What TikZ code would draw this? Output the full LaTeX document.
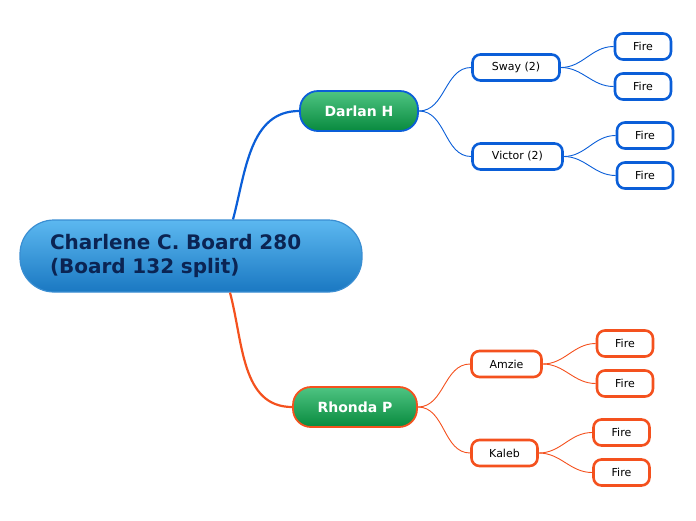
\documentclass[tikz,border=0pt]{standalone}
\usepackage{fontspec}
\setmainfont{DejaVu Sans}
\usepackage{tikz}
\usetikzlibrary{positioning}
\definecolor{rootTop}{HTML}{5CB8F0}
\definecolor{rootBottom}{HTML}{1A78C2}
\definecolor{rootEdge}{HTML}{3A8ED2}
\definecolor{rootInk}{HTML}{0B2453}
\definecolor{greenTop}{HTML}{4EC482}
\definecolor{greenBottom}{HTML}{088A3E}
\definecolor{linkBlue}{HTML}{0A5ED8}
\definecolor{linkOrange}{HTML}{F4511E}

\begin{document}
\begin{tikzpicture}[x=1pt,y=-1pt,
    rootbox/.style={draw=rootEdge,line width=1.2pt,rounded corners=34pt,
      top color=rootTop,bottom color=rootBottom,text=rootInk,
      font=\fontsize{20}{24}\selectfont\bfseries,align=left,
      text width=282pt,inner xsep=30pt,minimum height=72pt},
    mainbox/.style={draw=#1,line width=1.8pt,rounded corners=18pt,
      top color=greenTop,bottom color=greenBottom,text=white,
      font=\fontsize{14}{16}\selectfont\bfseries,minimum height=40pt},
    subbox/.style={draw=#1,line width=2.6pt,rounded corners=8pt,fill=white,
      font=\fontsize{11}{13}\selectfont,minimum height=26pt},
    firebox/.style={subbox=#1,minimum width=56pt},
    biglink/.style={draw=#1,line width=2.2pt},
    smalllink/.style={draw=#1,line width=0.9pt}]
    \useasboundingbox (0,0) rectangle (696,520);
    \node[rootbox] (root) at (191,256) {Charlene C. Board 280\\(Board 132 split)};
    \node[mainbox=linkBlue,minimum width=118pt] (darlan) at (359,111) {Darlan H};
    \node[mainbox=linkOrange,minimum width=124pt] (rhonda) at (355,407) {Rhonda P};
    \node[subbox=linkBlue,minimum width=87pt] (sway) at (516,67.5) {Sway (2)};
    \node[subbox=linkBlue,minimum width=90pt] (victor) at (517.5,156.5) {Victor (2)};
    \node[subbox=linkOrange,minimum width=70pt] (amzie) at (506.5,364) {Amzie};
    \node[subbox=linkOrange,minimum width=66pt] (kaleb) at (504.5,453) {Kaleb};
    \node[firebox=linkBlue] (fire1) at (643,46.5) {Fire};
    \node[firebox=linkBlue] (fire2) at (643,86.5) {Fire};
    \node[firebox=linkBlue] (fire3) at (645,135.5) {Fire};
    \node[firebox=linkBlue] (fire4) at (645,175.5) {Fire};
    \node[firebox=linkOrange] (fire5) at (625,343.5) {Fire};
    \node[firebox=linkOrange] (fire6) at (625,383.5) {Fire};
    \node[firebox=linkOrange] (fire7) at (621.5,432.5) {Fire};
    \node[firebox=linkOrange] (fire8) at (621.5,472.5) {Fire};
    \draw[biglink=linkBlue] ([xshift=42pt]root.north) to[out=75,in=180] (darlan.west);
    \draw[biglink=linkOrange] ([xshift=39pt]root.south) to[out=-75,in=180] (rhonda.west);
    \foreach \a/\b in {darlan/sway,darlan/victor,sway/fire1,sway/fire2,victor/fire3,victor/fire4}
      \draw[smalllink=linkBlue] (\a.east) to[out=0,in=180] (\b.west);
    \foreach \a/\b in {rhonda/amzie,rhonda/kaleb,amzie/fire5,amzie/fire6,kaleb/fire7,kaleb/fire8}
      \draw[smalllink=linkOrange] (\a.east) to[out=0,in=180] (\b.west);
  \end{tikzpicture}
\end{document}
